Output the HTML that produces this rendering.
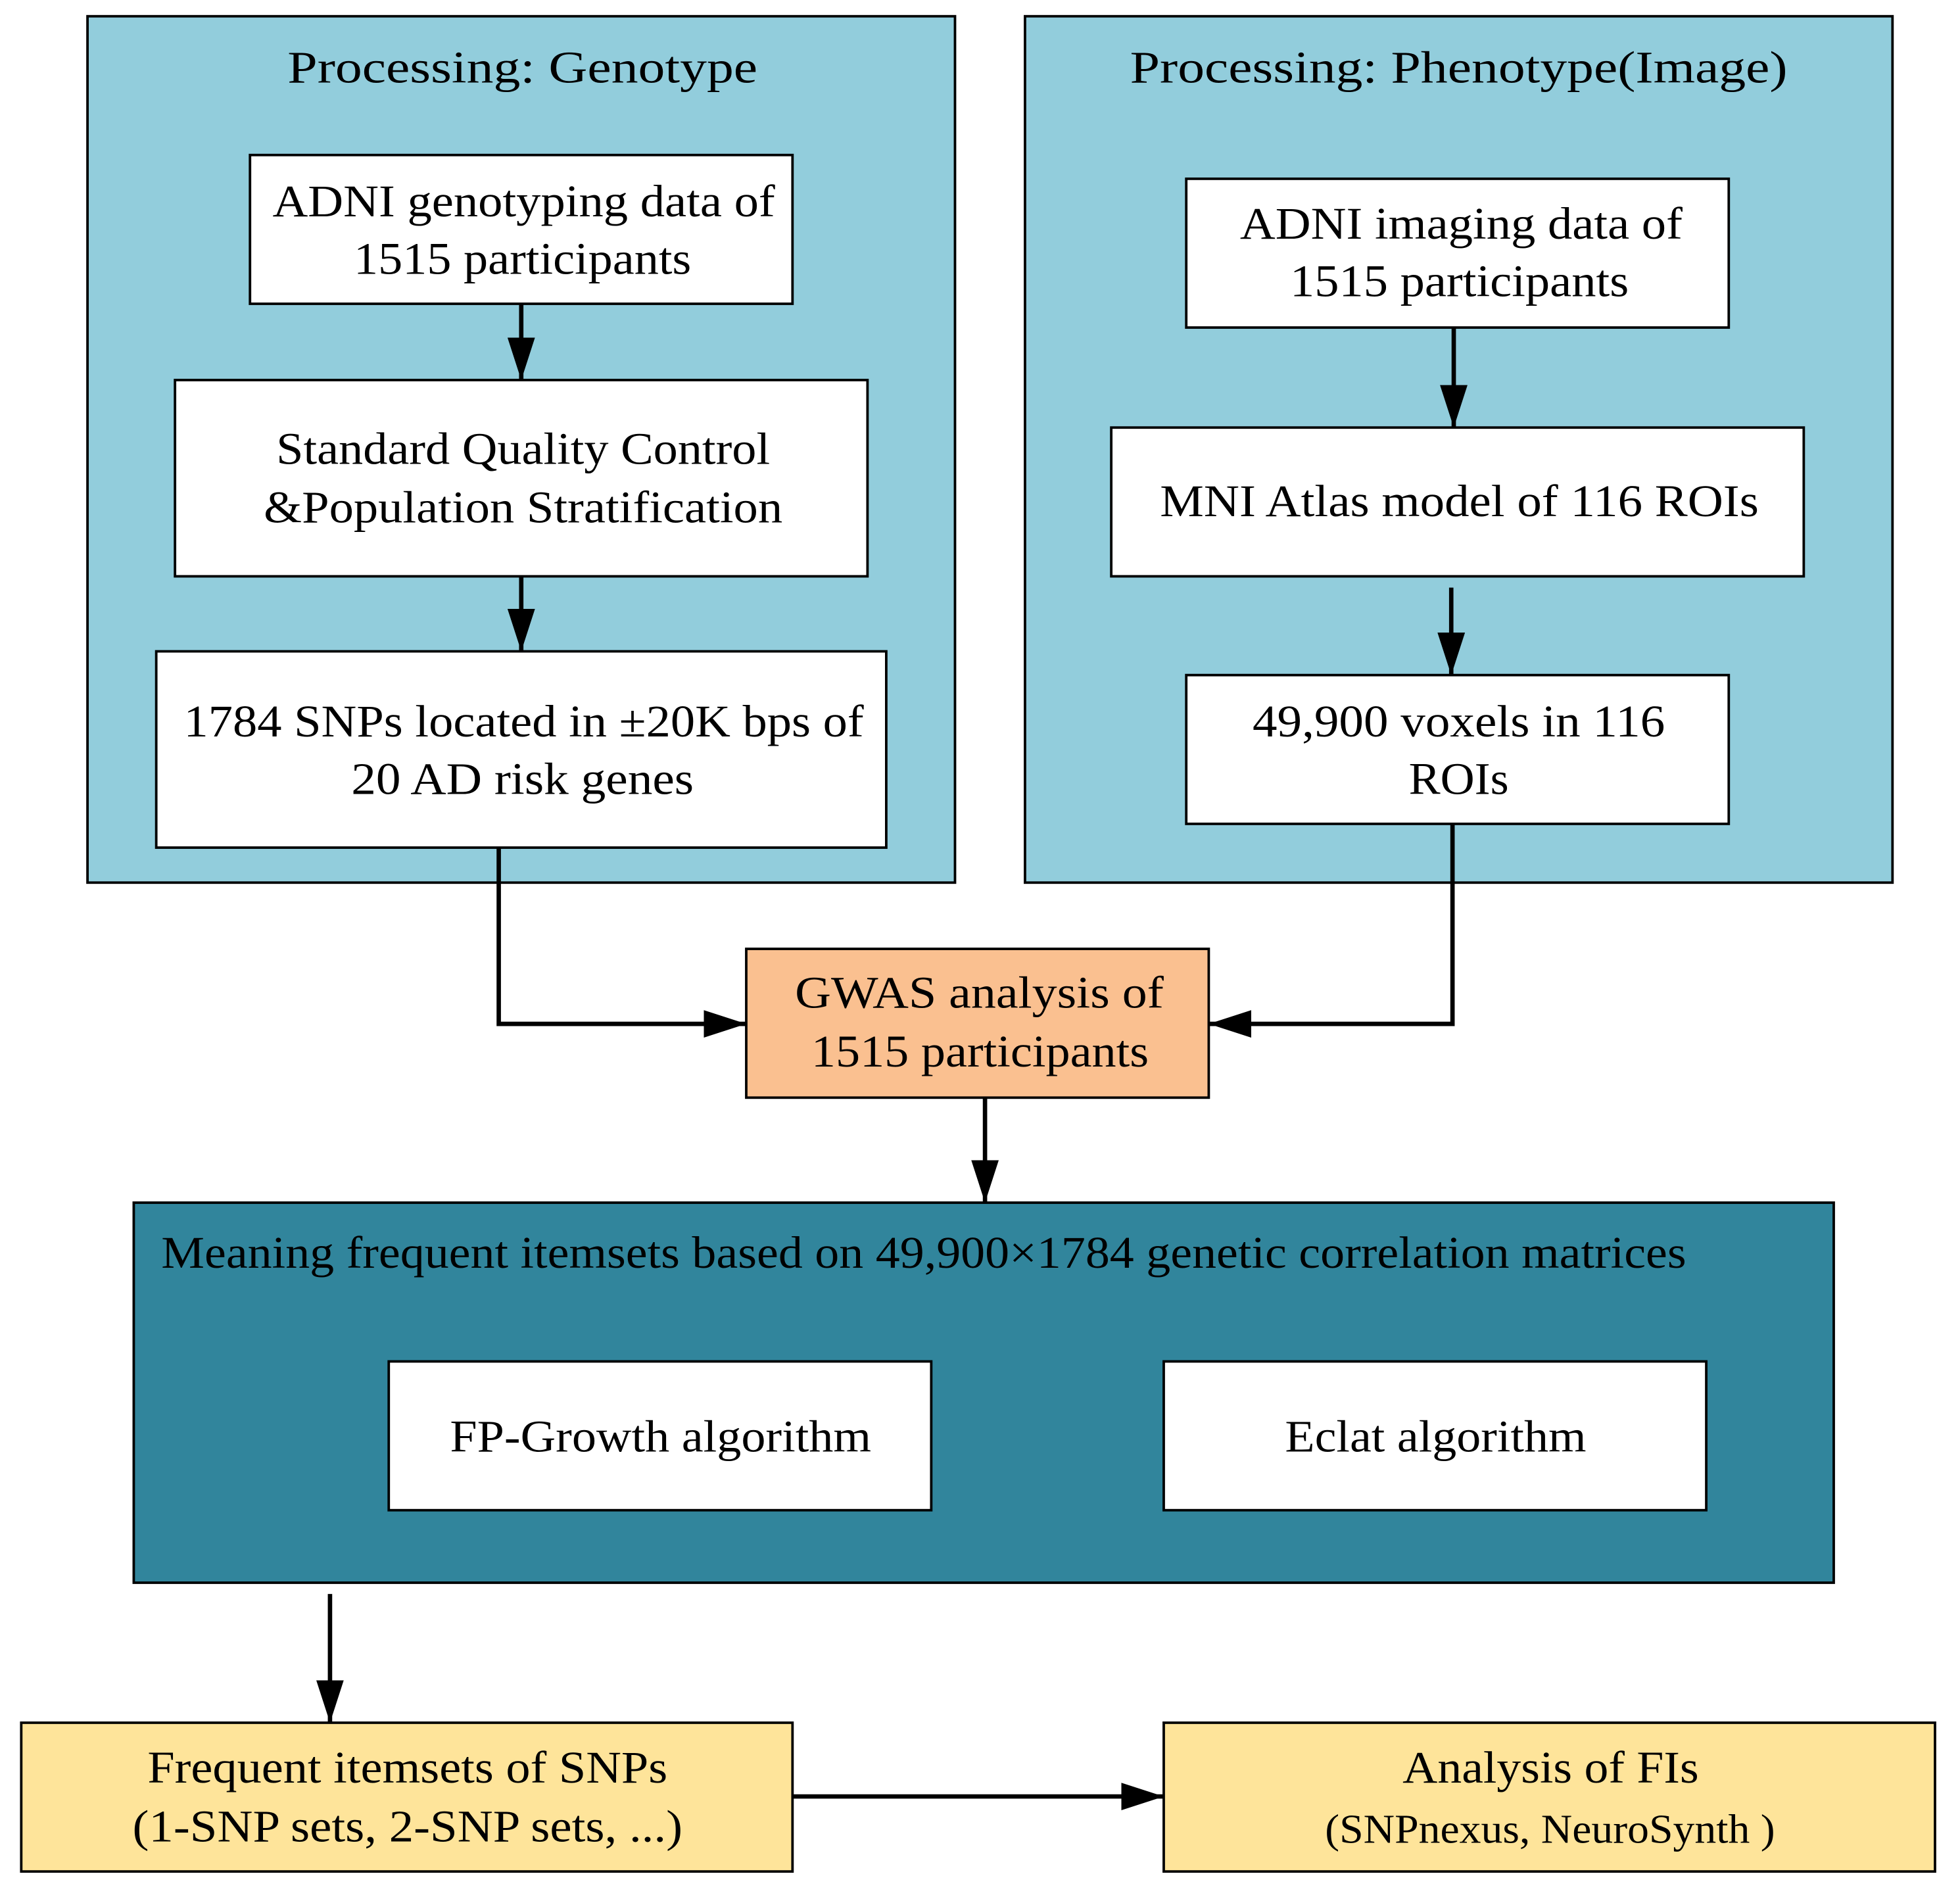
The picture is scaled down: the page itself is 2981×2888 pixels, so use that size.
<!DOCTYPE html>
<html><head><meta charset="utf-8"><style>html,body{margin:0;padding:0;background:#fff}svg{display:block}text{font-family:"Liberation Serif",serif;fill:#000}</style></head>
<body>
<svg width="2981" height="2888" viewBox="0 0 1568 1519" preserveAspectRatio="none" xmlns="http://www.w3.org/2000/svg">
<defs><marker id="m" markerWidth="34" markerHeight="22" refX="34" refY="11" orient="auto" markerUnits="userSpaceOnUse"><path d="M0,0 L34,11 L0,22 z" fill="#000"/></marker></defs>
<g stroke="#000" stroke-width="2">
<rect x="70" y="13" width="694" height="693" fill="#92CDDC"/>
<rect x="820" y="13" width="694" height="693" fill="#92CDDC"/>
<rect x="200" y="124" width="434" height="119" fill="#fff"/>
<rect x="140" y="304" width="554" height="157" fill="#fff"/>
<rect x="125" y="521" width="584" height="157" fill="#fff"/>
<rect x="949" y="143" width="434" height="119" fill="#fff"/>
<rect x="889" y="342" width="554" height="119" fill="#fff"/>
<rect x="949" y="540" width="434" height="119" fill="#fff"/>
<rect x="597" y="759" width="370" height="119" fill="#FAC090"/>
<rect x="107" y="962" width="1360" height="304" fill="#31859C"/>
<rect x="311" y="1089" width="434" height="119" fill="#fff"/>
<rect x="931" y="1089" width="434" height="119" fill="#fff"/>
<rect x="17" y="1378" width="617" height="119" fill="#FEE49A"/>
<rect x="931" y="1378" width="617" height="119" fill="#FEE49A"/>
</g>
<g stroke="#000" stroke-width="3.5" fill="none" marker-end="url(#m)">
<path d="M417,243 V304"/>
<path d="M417,461 V521"/>
<path d="M1163,262 V342"/>
<path d="M1161,470 V540"/>
<path d="M399,678 V819 H597"/>
<path d="M1162,659 V819 H967"/>
<path d="M788,878 V962"/>
<path d="M264,1275 V1378"/>
<path d="M634,1437 H931"/>
</g>
<g font-size="36" lengthAdjust="spacingAndGlyphs">
<text x="230" y="66" textLength="376" lengthAdjust="spacingAndGlyphs">Processing: Genotype</text>
<text x="904" y="66" textLength="526" lengthAdjust="spacingAndGlyphs">Processing: Phenotype(Image)</text>
<text x="218" y="173" textLength="402" lengthAdjust="spacingAndGlyphs">ADNI genotyping data of</text>
<text x="283" y="219" textLength="270" lengthAdjust="spacingAndGlyphs">1515 participants</text>
<text x="221" y="371" textLength="395" lengthAdjust="spacingAndGlyphs">Standard Quality Control</text>
<text x="211" y="418" textLength="415" lengthAdjust="spacingAndGlyphs">&amp;Population Stratification</text>
<text x="147" y="589" textLength="544" lengthAdjust="spacingAndGlyphs">1784 SNPs located in ±20K bps of</text>
<text x="281" y="635" textLength="274" lengthAdjust="spacingAndGlyphs">20 AD risk genes</text>
<text x="992" y="191" textLength="354" lengthAdjust="spacingAndGlyphs">ADNI imaging data of</text>
<text x="1032" y="237" textLength="271" lengthAdjust="spacingAndGlyphs">1515 participants</text>
<text x="928" y="413" textLength="479" lengthAdjust="spacingAndGlyphs">MNI Atlas model of 116 ROIs</text>
<text x="1002" y="589" textLength="330" lengthAdjust="spacingAndGlyphs">49,900 voxels in 116</text>
<text x="1127" y="635" textLength="80" lengthAdjust="spacingAndGlyphs">ROIs</text>
<text x="636" y="806" textLength="295" lengthAdjust="spacingAndGlyphs">GWAS analysis of</text>
<text x="649" y="853" textLength="270" lengthAdjust="spacingAndGlyphs">1515 participants</text>
<text x="129" y="1014" textLength="1220" lengthAdjust="spacingAndGlyphs">Meaning frequent itemsets based on 49,900×1784 genetic correlation matrices</text>
<text x="360" y="1161" textLength="337" lengthAdjust="spacingAndGlyphs">FP-Growth algorithm</text>
<text x="1028" y="1161" textLength="241" lengthAdjust="spacingAndGlyphs">Eclat algorithm</text>
<text x="118" y="1426" textLength="416" lengthAdjust="spacingAndGlyphs">Frequent itemsets of SNPs</text>
<text x="106" y="1473" textLength="440" lengthAdjust="spacingAndGlyphs">(1-SNP sets, 2-SNP sets, ...)</text>
<text x="1122" y="1426" textLength="237" lengthAdjust="spacingAndGlyphs">Analysis of FIs</text>
<text x="1060" y="1474" font-size="33" textLength="360" lengthAdjust="spacingAndGlyphs">(SNPnexus, NeuroSynth )</text>
</g>
</svg>
</body></html>
